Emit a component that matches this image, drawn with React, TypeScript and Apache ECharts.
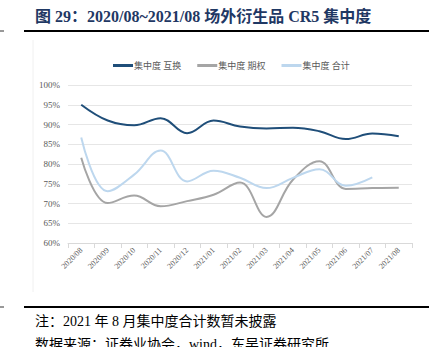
import React, { useEffect, useRef } from "react";
import * as echarts from "echarts";

const categories = [
  "2020/08", "2020/09", "2020/10", "2020/11", "2020/12", "2021/01", "2021/02",
  "2021/03", "2021/04", "2021/05", "2021/06", "2021/07", "2021/08",
];
const swapCR5 = [95.0, 91.0, 89.8, 91.6, 87.8, 91.0, 89.5, 89.0, 89.2, 88.3, 86.3, 87.7, 87.0];
const optionCR5 = [81.6, 70.1, 72.0, 69.3, 70.6, 72.2, 75.3, 66.6, 76.0, 80.7, 73.7, 73.9, 74.0];
const totalCR5 = [86.7, 73.1, 77.3, 83.4, 75.6, 78.3, 76.5, 73.9, 76.5, 78.7, 74.5, 76.6, null];
const seriesNames = ["集中度 互换", "集中度 期权", "集中度 合计"];
const colors = ["#1f4e79", "#a5a5a5", "#bdd7ee"];

const titleText = "图 29：2020/08~2021/08 场外衍生品 CR5 集中度";
const noteText = "注：2021 年 8 月集中度合计数暂未披露";
const sourceText = "数据来源：证券业协会，wind，东吴证券研究所";

const serif = "'Liberation Serif', 'Times New Roman', 'Noto Sans CJK SC', serif";

export default function App() {
  const ref = useRef<HTMLDivElement>(null);
  useEffect(() => {
    if (!ref.current) return;
    const chart = echarts.init(ref.current, null, { renderer: "svg" });
    const data = [swapCR5, optionCR5, totalCR5];
    chart.setOption({
      animation: false,
      backgroundColor: "#ffffff",
      textStyle: { fontFamily: serif },
      grid: { left: 68, right: 27, top: 85, bottom: 104, containLabel: false },
      legend: {
        top: 61,
        left: 113,
        padding: 0,
        itemWidth: 20,
        itemHeight: 3,
        itemGap: 16,
        icon: "rect",
        textStyle: { fontSize: 9, color: "#595959", fontFamily: serif, padding: [0, 0, 0, -4] },
        data: seriesNames,
      },
      xAxis: {
        type: "category",
        data: categories,
        boundaryGap: true,
        axisLine: { show: true, lineStyle: { color: "#d9d9d9" } },
        axisTick: { show: true, alignWithLabel: false, lineStyle: { color: "#d9d9d9" } },
        axisLabel: { rotate: 45, fontSize: 8, color: "#595959", margin: 6, interval: 0, fontFamily: serif },
      },
      yAxis: {
        type: "value",
        min: 60,
        max: 100,
        interval: 5,
        axisLine: { show: false },
        axisTick: { show: false },
        splitLine: { lineStyle: { color: "#e6e6e6", width: 1 } },
        axisLabel: { formatter: "{value}%", fontSize: 9, color: "#595959", margin: 8, fontFamily: serif },
      },
      series: seriesNames.map((name, i) => ({
        name,
        type: "line",
        smooth: 0.4,
        showSymbol: false,
        symbol: "none",
        data: data[i],
        lineStyle: { color: colors[i], width: 2 },
        itemStyle: { color: colors[i] },
      })),
      graphic: [
        {
          type: "text",
          left: 35,
          top: 8,
          style: { text: titleText, fontSize: 16, fontWeight: "bold", fill: "#1f3864", fontFamily: serif },
        },
        { type: "line", shape: { x1: 24, y1: 31, x2: 429, y2: 31 }, style: { stroke: "#000", lineWidth: 2 } },
        { type: "line", shape: { x1: 0, y1: 31, x2: 4, y2: 31 }, style: { stroke: "#333", lineWidth: 1 } },
        { type: "line", shape: { x1: 33, y1: 40, x2: 33, y2: 292 }, style: { stroke: "#f0f0f0", lineWidth: 1 } },
        { type: "line", shape: { x1: 24, y1: 307, x2: 429, y2: 307 }, style: { stroke: "#000", lineWidth: 2 } },
        { type: "line", shape: { x1: 0, y1: 307, x2: 4, y2: 307 }, style: { stroke: "#333", lineWidth: 1 } },
        {
          type: "text",
          left: 35,
          top: 314,
          style: { text: noteText, fontSize: 14, fill: "#000", fontFamily: serif },
        },
        {
          type: "text",
          left: 35,
          top: 337,
          style: { text: sourceText, fontSize: 14, fill: "#000", fontFamily: serif },
        },
      ],
    });
    return () => chart.dispose();
  }, []);
  return <div ref={ref} style={{ width: 439, height: 347, position: "fixed", left: 0, top: 0 }} />;
}
